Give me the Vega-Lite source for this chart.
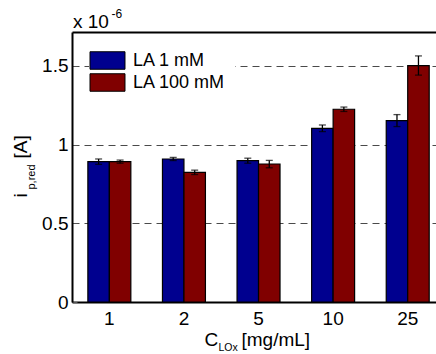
{
  "$schema": "https://vega.github.io/schema/vega-lite/v6.json",
  "width": 364,
  "height": 270,
  "autosize": {"type": "none"},
  "padding": {"left": 72, "top": 32, "right": 0, "bottom": 52},
  "config": {
    "font": "Liberation Sans",
    "view": {"stroke": null},
    "axis": {"labelColor": "black", "titleColor": "black", "titleFontWeight": "normal"}
  },
  "data": {"values": [
    {"conc": "1", "series": "LA 1 mM", "value": 0.892, "lo": 0.875, "hi": 0.909},
    {"conc": "1", "series": "LA 100 mM", "value": 0.892, "lo": 0.882, "hi": 0.902},
    {"conc": "2", "series": "LA 1 mM", "value": 0.909, "lo": 0.899, "hi": 0.919},
    {"conc": "2", "series": "LA 100 mM", "value": 0.824, "lo": 0.81, "hi": 0.838},
    {"conc": "5", "series": "LA 1 mM", "value": 0.898, "lo": 0.882, "hi": 0.914},
    {"conc": "5", "series": "LA 100 mM", "value": 0.877, "lo": 0.853, "hi": 0.9},
    {"conc": "10", "series": "LA 1 mM", "value": 1.104, "lo": 1.083, "hi": 1.125},
    {"conc": "10", "series": "LA 100 mM", "value": 1.225, "lo": 1.211, "hi": 1.239},
    {"conc": "25", "series": "LA 1 mM", "value": 1.153, "lo": 1.115, "hi": 1.191},
    {"conc": "25", "series": "LA 100 mM", "value": 1.502, "lo": 1.442, "hi": 1.564}
  ]},
  "layer": [
    {
      "mark": {"type": "bar", "stroke": "black", "strokeWidth": 1.2},
      "encoding": {
        "x": {"field": "conc", "type": "ordinal", "sort": ["1", "2", "5", "10", "25"],
          "scale": {"paddingInner": 0.424, "paddingOuter": 0.152, "align": 0.7},
          "axis": {"orient": "bottom", "domain": true, "domainColor": "black", "domainWidth": 2, "ticks": false, "labelFontSize": 19, "labelPadding": 7, "labelAngle": 0,
            "title": "C", "titleFontSize": 19, "titleAlign": "left", "titleBaseline": "alphabetic", "titleX": 132, "titleY": 43}},
        "xOffset": {"field": "series", "sort": ["LA 1 mM", "LA 100 mM"], "scale": {"paddingInner": 0, "paddingOuter": 0}},
        "y": {"field": "value", "type": "quantitative", "scale": {"domain": [0, 1.716], "nice": false, "zero": true},
          "axis": {"orient": "left", "values": [0, 0.5, 1, 1.5], "format": "~g", "grid": true, "gridDash": [7, 5], "gridColor": "#4a4a4a", "gridWidth": 1,
            "domain": true, "domainColor": "black", "domainWidth": 2, "ticks": true, "tickSize": -5, "tickColor": "#555", "labelFontSize": 19, "labelPadding": 9,
            "title": "i", "titleFontSize": 19, "titleAngle": -90, "titleAlign": "left", "titleBaseline": "alphabetic", "titleX": -46, "titleY": 165}},
        "color": {"field": "series", "type": "nominal", "sort": ["LA 1 mM", "LA 100 mM"],
          "scale": {"range": ["#00008f", "#800000"]},
          "legend": {"orient": "none", "legendX": 17, "legendY": 10, "title": null, "padding": 9, "fillColor": "white", "strokeColor": null,
            "symbolType": "M-2,-1H2V1H-2Z", "symbolSize": 306, "symbolStrokeColor": "black", "symbolStrokeWidth": 1, "symbolOpacity": 1,
            "labelFontSize": 18, "labelColor": "black", "labelOffset": 16, "rowPadding": -1}}
      }
    },
    {
      "mark": {"type": "rule", "color": "black", "strokeWidth": 1.3},
      "encoding": {
        "x": {"field": "conc", "type": "ordinal", "sort": ["1", "2", "5", "10", "25"],
          "axis": {"orient": "bottom", "domain": false, "ticks": false, "labels": false, "grid": false,
            "title": "LOx", "titleFontSize": 10.5, "titleAlign": "left", "titleBaseline": "alphabetic", "titleX": 146, "titleY": 48}},
        "xOffset": {"field": "series", "sort": ["LA 1 mM", "LA 100 mM"]},
        "y": {"field": "lo", "type": "quantitative",
          "axis": {"orient": "left", "domain": false, "ticks": false, "labels": false, "grid": false,
            "title": "p,red", "titleFontSize": 11, "titleAngle": -90, "titleAlign": "left", "titleBaseline": "alphabetic", "titleX": -38, "titleY": 157}},
        "y2": {"field": "hi"}
      }
    },
    {
      "mark": {"type": "tick", "color": "black", "thickness": 1.3, "size": 7},
      "encoding": {
        "x": {"field": "conc", "type": "ordinal", "sort": ["1", "2", "5", "10", "25"],
          "axis": {"orient": "bottom", "domain": false, "ticks": false, "labels": false, "grid": false,
            "title": "[mg/mL]", "titleFontSize": 19, "titleAlign": "left", "titleBaseline": "alphabetic", "titleX": 169, "titleY": 43}},
        "xOffset": {"field": "series", "sort": ["LA 1 mM", "LA 100 mM"]},
        "y": {"field": "lo", "type": "quantitative",
          "axis": {"orient": "left", "domain": false, "ticks": false, "labels": false, "grid": false,
            "title": "[A]", "titleFontSize": 19, "titleAngle": -90, "titleAlign": "left", "titleBaseline": "alphabetic", "titleX": -46, "titleY": 126}}
      }
    },
    {
      "mark": {"type": "tick", "color": "black", "thickness": 1.3, "size": 7},
      "encoding": {
        "x": {"field": "conc", "type": "ordinal", "sort": ["1", "2", "5", "10", "25"],
          "axis": {"orient": "top", "domain": true, "domainColor": "black", "domainWidth": 2, "ticks": false, "labels": false, "grid": false,
            "title": "x 10", "titleFontSize": 19, "titleAlign": "left", "titleBaseline": "alphabetic", "titleX": 0.5, "titleY": -5}},
        "xOffset": {"field": "series", "sort": ["LA 1 mM", "LA 100 mM"]},
        "y": {"field": "hi", "type": "quantitative",
          "axis": {"orient": "left", "domain": false, "ticks": false, "labels": false, "grid": false,
            "title": "-6", "titleFontSize": 12, "titleAngle": 0, "titleAlign": "left", "titleBaseline": "alphabetic", "titleX": 39, "titleY": -15}}
      }
    }
  ],
  "resolve": {"axis": {"x": "independent", "y": "independent"}}
}
